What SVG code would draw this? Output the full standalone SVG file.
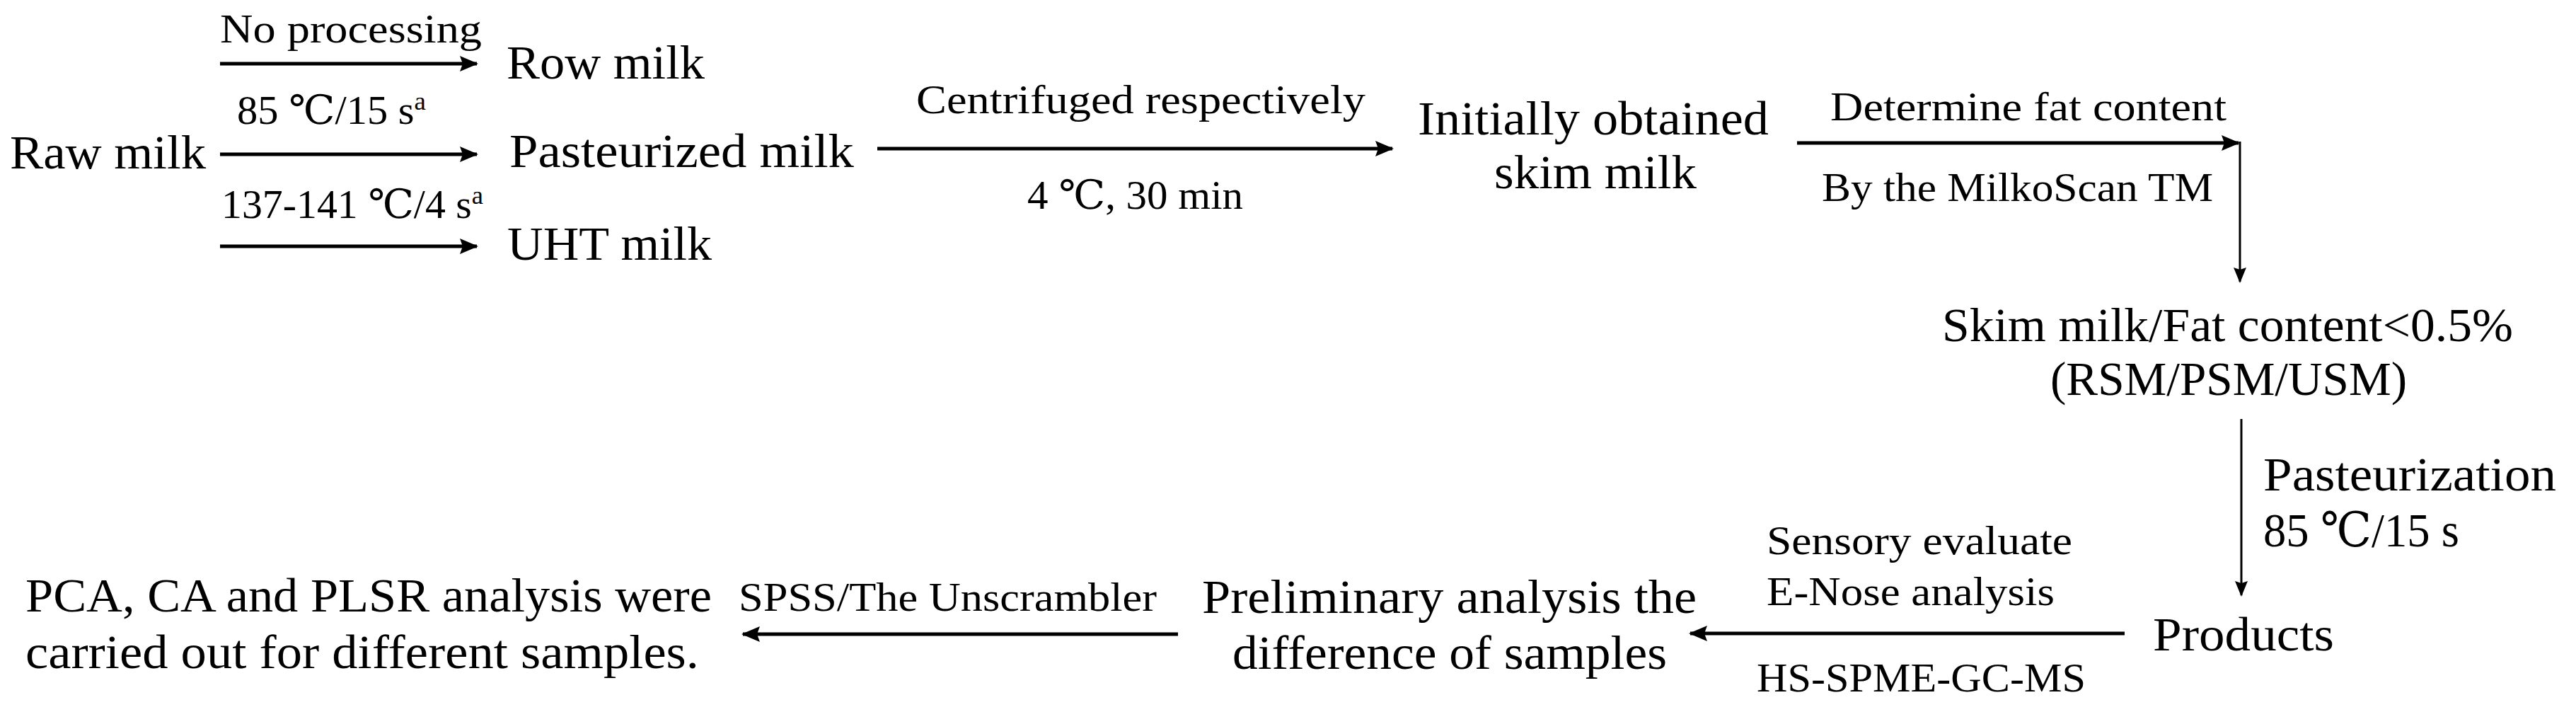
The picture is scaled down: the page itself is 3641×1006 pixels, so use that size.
<svg xmlns="http://www.w3.org/2000/svg" width="3641" height="1006" viewBox="0 0 3641 1006">
<style>
text{font-family:"Liberation Serif","DejaVu Serif","Noto Sans CJK SC",serif;fill:#000;}
.n{font-size:68px;}
.l{font-size:57px;}
.sup{font-size:36px;}
.th{stroke:#000;stroke-width:5;fill:none;}
.tn{stroke:#000;stroke-width:3;fill:none;}
</style>
<defs>
<marker id="ah" markerUnits="userSpaceOnUse" markerWidth="26" markerHeight="22" refX="24" refY="11" orient="auto"><path d="M0,0 L26,11 L0,22 L4,11 z" fill="#000"/></marker>
<marker id="av" markerUnits="userSpaceOnUse" markerWidth="22" markerHeight="18" refX="20" refY="9" orient="auto"><path d="M0,0 L22,9 L0,18 L3,9 z" fill="#000"/></marker>
</defs>
<rect width="3641" height="1006" fill="#fff"/>
<g id="connectors">
<line class="th" x1="311" y1="90" x2="674" y2="90" marker-end="url(#ah)"/>
<line class="th" x1="311" y1="218" x2="674" y2="218" marker-end="url(#ah)"/>
<line class="th" x1="311" y1="348" x2="674" y2="348" marker-end="url(#ah)"/>
<line class="th" x1="1240" y1="210" x2="1968" y2="210" marker-end="url(#ah)"/>
<line class="th" x1="2540" y1="202" x2="3164" y2="202" marker-end="url(#ah)"/>
<line class="tn" x1="3166" y1="200" x2="3166" y2="398" marker-end="url(#av)"/>
<line class="tn" x1="3168" y1="592" x2="3168" y2="841" marker-end="url(#av)"/>
<line class="th" x1="3003" y1="895" x2="2389" y2="895" marker-end="url(#ah)"/>
<line class="th" x1="1665" y1="896" x2="1050" y2="896" marker-end="url(#ah)"/>
</g>
<g id="label-no-processing"><text class="l" x="311" y="60" textLength="370" lengthAdjust="spacingAndGlyphs">No processing</text></g>
<g id="label-85"><text class="l" x="335" y="175" textLength="267" lengthAdjust="spacingAndGlyphs">85 ℃/15 s<tspan class="sup" dy="-20">a</tspan></text></g>
<g id="label-137"><text class="l" x="313" y="308" textLength="370" lengthAdjust="spacingAndGlyphs">137-141 ℃/4 s<tspan class="sup" dy="-20">a</tspan></text></g>
<g id="node-raw"><text class="n" x="14" y="238" textLength="277" lengthAdjust="spacingAndGlyphs">Raw milk</text></g>
<g id="node-row"><text class="n" x="716" y="111" textLength="280" lengthAdjust="spacingAndGlyphs">Row milk</text></g>
<g id="node-past"><text class="n" x="720" y="236" textLength="487" lengthAdjust="spacingAndGlyphs">Pasteurized milk</text></g>
<g id="node-uht"><text class="n" x="717" y="367" textLength="289" lengthAdjust="spacingAndGlyphs">UHT milk</text></g>
<g id="label-centrifuged"><text class="l" x="1295" y="160" textLength="635" lengthAdjust="spacingAndGlyphs">Centrifuged respectively</text></g>
<g id="label-4c"><text class="l" x="1452" y="295" textLength="305" lengthAdjust="spacingAndGlyphs">4 ℃, 30 min</text></g>
<g id="node-initial"><text class="n" x="2004" y="190" textLength="496" lengthAdjust="spacingAndGlyphs">Initially obtained</text><text class="n" x="2112" y="266" textLength="286" lengthAdjust="spacingAndGlyphs">skim milk</text></g>
<g id="label-fat"><text class="l" x="2587" y="170" textLength="560" lengthAdjust="spacingAndGlyphs">Determine fat content</text></g>
<g id="label-milkoscan"><text class="l" x="2575" y="284" textLength="553" lengthAdjust="spacingAndGlyphs">By the MilkoScan TM</text></g>
<g id="node-skim"><text class="n" x="2745" y="482" textLength="807" lengthAdjust="spacingAndGlyphs">Skim milk/Fat content&lt;0.5%</text><text class="n" x="2898" y="558" textLength="504" lengthAdjust="spacingAndGlyphs">(RSM/PSM/USM)</text></g>
<g id="label-pasteurization"><text class="n" x="3199" y="693" textLength="414" lengthAdjust="spacingAndGlyphs">Pasteurization</text><text class="n" x="3199" y="772" textLength="277" lengthAdjust="spacingAndGlyphs">85 ℃/15 s</text></g>
<g id="node-products"><text class="n" x="3043" y="919" textLength="256" lengthAdjust="spacingAndGlyphs">Products</text></g>
<g id="label-sensory"><text class="l" x="2497" y="783" textLength="432" lengthAdjust="spacingAndGlyphs">Sensory evaluate</text><text class="l" x="2497" y="855" textLength="407" lengthAdjust="spacingAndGlyphs">E-Nose analysis</text></g>
<g id="label-hs"><text class="l" x="2483" y="977" textLength="465" lengthAdjust="spacingAndGlyphs">HS-SPME-GC-MS</text></g>
<g id="node-prelim"><text class="n" x="1699" y="866" textLength="699" lengthAdjust="spacingAndGlyphs">Preliminary analysis the</text><text class="n" x="1742" y="945" textLength="614" lengthAdjust="spacingAndGlyphs">difference of samples</text></g>
<g id="label-spss"><text class="l" x="1044" y="863" textLength="591" lengthAdjust="spacingAndGlyphs">SPSS/The Unscrambler</text></g>
<g id="node-pca"><text class="n" x="36" y="864" textLength="970" lengthAdjust="spacingAndGlyphs">PCA, CA and PLSR analysis were</text><text class="n" x="36" y="944" textLength="952" lengthAdjust="spacingAndGlyphs">carried out for different samples.</text></g>
</svg>
